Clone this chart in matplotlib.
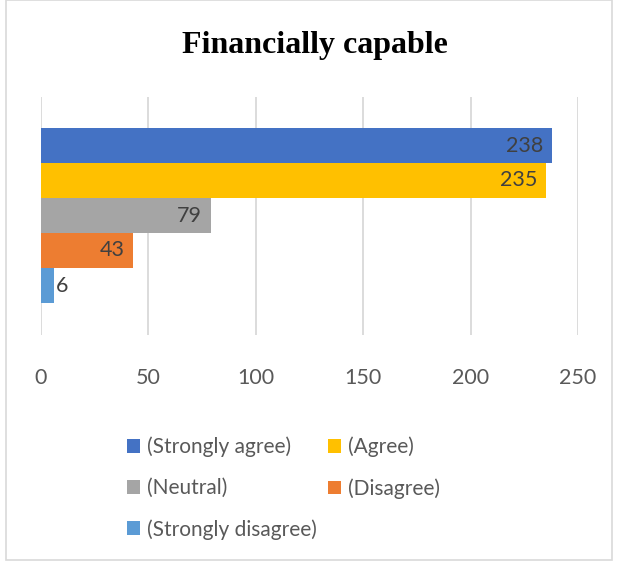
import matplotlib
matplotlib.use('Agg')
import matplotlib.pyplot as plt
from matplotlib.patches import Rectangle

# data
labels = ['(Strongly agree)', '(Agree)', '(Neutral)', '(Disagree)', '(Strongly disagree)']
values = [238, 235, 79, 43, 6]
colors = ['#4472C4', '#FFC000', '#A5A5A5', '#ED7D31', '#5B9BD5']
ticks = [0, 50, 100, 150, 200, 250]

plt.rcParams['font.family'] = ['Lato', 'DejaVu Sans']

fig = plt.figure(figsize=(6.18, 5.63), dpi=100)
ax = fig.add_axes([41/618, 1-335/563, (578-41)/618, (335-97)/563])

n = len(values)
bars = []
for i, (lab, v, c) in enumerate(zip(labels, values, colors)):
    y = n - i  # top to bottom
    b = ax.barh(y, v, height=1.0, color=c, label=lab, zorder=3)
    bars.append(b)
    if v > 20:
        ax.text(v - 4, y, str(v), ha='right', va='center', fontsize=15.5, color='#404040', zorder=4)
    else:
        ax.text(v + 1, y, str(v), ha='left', va='center', fontsize=15.5, color='#404040', zorder=4)

ax.set_xlim(0, 250)
# bars sit at 128..303 px inside the 97..335 plot area
top = n + 0.5 + (128 - 97) / 35.0
bottom = 0.5 - (335 - 303) / 35.0
ax.set_ylim(bottom, top)
ax.set_xticks(ticks)
ax.set_yticks([])
ax.grid(axis='x', color='#d9d9d9', linewidth=1.3, zorder=0)
for s in ax.spines.values():
    s.set_visible(False)
ax.tick_params(axis='x', length=0, labelsize=15.5, labelcolor='#595959', pad=24)

fig.text(315/618, 1-45/563, 'Financially capable', ha='center', va='center',
         fontsize=23, fontweight='bold', family='Liberation Serif')

# legend filled column-wise, so reorder to get row-wise layout
order = [0, 2, 4, 1, 3]
leg = fig.legend(handles=[bars[k] for k in order], labels=[labels[k] for k in order],
                 ncol=2, loc='upper left',
                 bbox_to_anchor=(108/618, 1-418/563), frameon=False,
                 fontsize=15, labelcolor='#595959', handlelength=0.65, handleheight=0.65,
                 handletextpad=0.3, columnspacing=0.55, labelspacing=1.0)

fig.patches.append(Rectangle((6/618, 3/563), 606/618, 0.995, transform=fig.transFigure,
                             fill=False, edgecolor='#d9d9d9', linewidth=1.2))

plt.savefig('out.png', dpi=100)
